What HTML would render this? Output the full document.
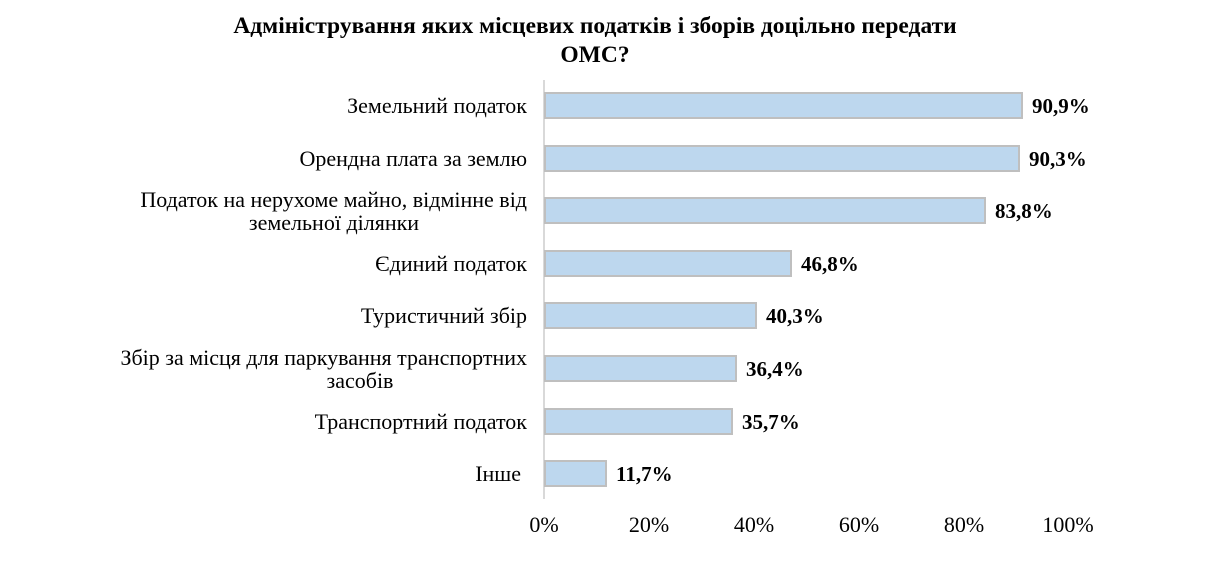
<!DOCTYPE html>
<html><head><meta charset="utf-8"><style>
body{margin:0;background:#fff;}
svg text{font-family:"Liberation Serif",serif;}
</style></head><body>
<svg width="1207" height="571" xmlns="http://www.w3.org/2000/svg">
<text x="595" y="33" text-anchor="middle" font-size="23.5" font-weight="bold">Адміністрування яких місцевих податків і зборів доцільно передати</text>
<text x="595" y="62" text-anchor="middle" font-size="23.5" font-weight="bold">ОМС?</text>
<line x1="544" y1="80" x2="544" y2="499" stroke="#d9d9d9" stroke-width="2"/>
<g fill="#BDD7EE" stroke="#BFBFBF" stroke-width="2">
<rect x="545" y="93" width="477" height="25"/>
<rect x="545" y="146" width="474" height="25"/>
<rect x="545" y="198" width="440" height="25"/>
<rect x="545" y="251" width="246" height="25"/>
<rect x="545" y="303" width="211" height="25"/>
<rect x="545" y="356" width="191" height="25"/>
<rect x="545" y="409" width="187" height="25"/>
<rect x="545" y="461" width="61" height="25"/>
</g>
<g font-size="21" font-weight="bold">
<text x="1032" y="113">90,9%</text>
<text x="1029" y="166">90,3%</text>
<text x="995" y="218">83,8%</text>
<text x="801" y="271">46,8%</text>
<text x="766" y="323">40,3%</text>
<text x="746" y="376">36,4%</text>
<text x="742" y="429">35,7%</text>
<text x="616" y="481">11,7%</text>
</g>
<g font-size="22" text-anchor="end">
<text x="527" y="113">Земельний податок</text>
<text x="527" y="166">Орендна плата за землю</text>
<text x="527" y="207">Податок на нерухоме майно, відмінне від</text>
<text x="334" y="230" text-anchor="middle">земельної ділянки</text>
<text x="527" y="271">Єдиний податок</text>
<text x="527" y="323">Туристичний збір</text>
<text x="527" y="365">Збір за місця для паркування транспортних</text>
<text x="360" y="388" text-anchor="middle">засобів</text>
<text x="527" y="429">Транспортний податок</text>
<text x="521" y="481">Інше</text>
</g>
<g font-size="22" text-anchor="middle">
<text x="544" y="532">0%</text>
<text x="649" y="532">20%</text>
<text x="754" y="532">40%</text>
<text x="859" y="532">60%</text>
<text x="964" y="532">80%</text>
<text x="1068" y="532">100%</text>
</g>
</svg>
</body></html>
